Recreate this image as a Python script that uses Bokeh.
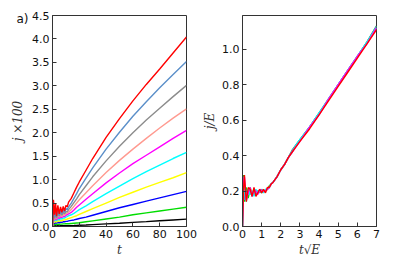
from bokeh.plotting import figure
from bokeh.layouts import row
from bokeh.models import Range1d, FixedTicker, NumeralTickFormatter
from bokeh.embed import file_html
from bokeh.resources import INLINE

# ---------------- data: left panel (j x 100 vs t) ----------------
t_left = [0, 0.7, 1.5, 2.3, 3, 4, 5, 6, 7, 8, 9, 10, 11,
          12, 14, 16, 18, 20, 25, 30, 40, 50, 60, 70, 80, 90, 100]

j_black = [0, 0.02, 0.012, 0.015, 0.013, 0.015, 0.014, 0.015, 0.015, 0.015, 0.015, 0.015, 0.015,
           0.016, 0.018, 0.02, 0.023, 0.026, 0.032, 0.04, 0.055, 0.07, 0.087, 0.104, 0.122, 0.14, 0.158]
j_green = [0, 0.06, 0.035, 0.05, 0.04, 0.05, 0.045, 0.05, 0.05, 0.055, 0.055, 0.06, 0.06,
           0.06, 0.065, 0.07, 0.075, 0.08, 0.1, 0.12, 0.16, 0.2, 0.25, 0.29, 0.33, 0.37, 0.41]
j_blue = [0, 0.1, 0.06, 0.09, 0.07, 0.09, 0.08, 0.09, 0.09, 0.1, 0.1, 0.11, 0.11,
          0.12, 0.13, 0.14, 0.155, 0.17, 0.2, 0.24, 0.32, 0.40, 0.47, 0.54, 0.61, 0.68, 0.75]
j_yellow = [0, 0.15, 0.08, 0.13, 0.09, 0.13, 0.11, 0.13, 0.12, 0.14, 0.14, 0.15, 0.16,
            0.17, 0.19, 0.21, 0.23, 0.26, 0.32, 0.38, 0.5, 0.62, 0.73, 0.84, 0.94, 1.04, 1.15]
j_cyan = [0, 0.2, 0.11, 0.18, 0.12, 0.17, 0.14, 0.17, 0.16, 0.18, 0.18, 0.2, 0.21,
          0.23, 0.25, 0.28, 0.32, 0.36, 0.44, 0.53, 0.70, 0.86, 1.02, 1.17, 1.31, 1.45, 1.58]
j_magenta = [0, 0.25, 0.13, 0.22, 0.14, 0.21, 0.17, 0.21, 0.19, 0.22, 0.21, 0.24, 0.25,
             0.27, 0.3, 0.35, 0.41, 0.46, 0.58, 0.70, 0.93, 1.14, 1.34, 1.52, 1.70, 1.88, 2.05]
j_salmon = [0, 0.3, 0.15, 0.27, 0.16, 0.26, 0.2, 0.25, 0.21, 0.26, 0.24, 0.28, 0.28,
            0.31, 0.36, 0.43, 0.50, 0.57, 0.72, 0.87, 1.15, 1.41, 1.65, 1.88, 2.10, 2.31, 2.51]
j_gray = [0, 0.38, 0.17, 0.33, 0.18, 0.32, 0.22, 0.3, 0.24, 0.3, 0.27, 0.32, 0.31,
          0.36, 0.43, 0.51, 0.59, 0.68, 0.87, 1.06, 1.40, 1.71, 2.00, 2.27, 2.52, 2.77, 3.01]
j_steel = [0, 0.45, 0.2, 0.4, 0.2, 0.38, 0.24, 0.36, 0.26, 0.36, 0.3, 0.38, 0.36,
           0.42, 0.5, 0.6, 0.7, 0.81, 1.03, 1.25, 1.65, 2.01, 2.35, 2.66, 2.96, 3.24, 3.52]
j_red = [0, 0.57, 0.25, 0.5, 0.22, 0.45, 0.27, 0.42, 0.3, 0.43, 0.33, 0.45, 0.42,
         0.52, 0.6, 0.72, 0.84, 0.95, 1.2, 1.45, 1.9, 2.3, 2.68, 3.03, 3.36, 3.7, 4.04]

left_series = [
    (j_black, "#000000"), (j_green, "#00dd00"), (j_blue, "#0000ff"),
    (j_yellow, "#ffff00"), (j_cyan, "#00ffff"), (j_magenta, "#ff00ff"),
    (j_salmon, "#ff9a90"), (j_gray, "#8c8c8c"), (j_steel, "#5b8fc9"),
    (j_red, "#ff0000"),
]

# ---------------- data: right panel (j/E vs t sqrt(E)) ----------------
x_right = [0, 0.05, 0.1, 0.2, 0.3, 0.4, 0.5, 0.6, 0.7, 0.8, 0.9, 1.0, 1.1, 1.2, 1.3, 1.4,
           1.5, 1.6, 1.8, 2.0, 2.2, 2.4, 2.6, 2.8, 3.0, 3.5, 4.0, 4.5, 5.0, 5.5, 6.0, 6.5, 7.0]
r_green = [0, 0.29, 0.14, 0.22, 0.16, 0.22, 0.18, 0.21, 0.18, 0.2, 0.2, 0.19, 0.2, 0.2, 0.21, 0.23,
           0.24, 0.25, 0.28, 0.32, 0.35, 0.39, 0.43, 0.46, 0.49, 0.56, 0.64, 0.72, 0.80, 0.88, 0.96, 1.04, 1.13]
r_steel = [0, 0.28, 0.15, 0.2, 0.18, 0.2, 0.17, 0.21, 0.19, 0.2, 0.19, 0.21, 0.2, 0.2, 0.21, 0.22,
           0.24, 0.25, 0.28, 0.32, 0.35, 0.39, 0.43, 0.46, 0.49, 0.56, 0.64, 0.72, 0.80, 0.88, 0.96, 1.04, 1.13]
r_cyan = [0, 0.27, 0.21, 0.14, 0.21, 0.18, 0.2, 0.17, 0.21, 0.19, 0.2, 0.2, 0.19, 0.21, 0.21, 0.22,
          0.24, 0.25, 0.28, 0.32, 0.35, 0.39, 0.42, 0.46, 0.49, 0.56, 0.64, 0.72, 0.80, 0.88, 0.96, 1.04, 1.12]
r_magenta = [0, 0.25, 0.28, 0.15, 0.19, 0.22, 0.17, 0.2, 0.2, 0.18, 0.21, 0.2, 0.2, 0.2, 0.21, 0.22,
             0.24, 0.25, 0.28, 0.32, 0.35, 0.39, 0.42, 0.45, 0.48, 0.56, 0.63, 0.72, 0.80, 0.88, 0.96, 1.03, 1.12]
r_red = [0, 0.2, 0.29, 0.14, 0.22, 0.21, 0.17, 0.22, 0.17, 0.19, 0.21, 0.19, 0.21, 0.19, 0.22, 0.22,
         0.24, 0.25, 0.28, 0.32, 0.35, 0.39, 0.42, 0.45, 0.48, 0.55, 0.63, 0.71, 0.79, 0.87, 0.95, 1.03, 1.11]

right_series = [
    (r_green, "#00dd00"), (r_steel, "#5b8fc9"), (r_cyan, "#00ffff"),
    (r_magenta, "#ff00ff"), (r_red, "#ff0000"),
]

left_yticks = [0, 0.5, 1.0, 1.5, 2.0, 2.5, 3.0, 3.5, 4.0, 4.5]
left_xticks = [0, 20, 40, 60, 80, 100]
right_yticks = [0, 0.2, 0.4, 0.6, 0.8, 1.0]
right_xticks = [0, 1, 2, 3, 4, 5, 6, 7]
panel_tag = "a)"

TICK_FONT = "DejaVu Sans"
LABEL_FONT = "DejaVu Serif"


def style(p, xticks, yticks, xlabel, ylabel, ylab_standoff):
    p.outline_line_color = "#333333"
    p.outline_line_width = 1
    p.xgrid.visible = False
    p.ygrid.visible = False
    for ax in p.xaxis + p.yaxis:
        ax.major_tick_in = 4
        ax.major_tick_out = 0
        ax.minor_tick_line_color = None
        ax.axis_line_color = "#333333"
        ax.major_tick_line_color = "#333333"
        ax.major_label_text_font = TICK_FONT
        ax.major_label_text_font_size = "11px"
        ax.major_label_text_color = "#111111"
        ax.axis_label_text_font = LABEL_FONT
        ax.axis_label_text_font_style = "italic"
        ax.axis_label_text_font_size = "12px"
        ax.axis_label_text_color = "#333333"
        ax.major_label_standoff = 3
        ax.axis_label_standoff = 2
    p.yaxis.axis_label_standoff = ylab_standoff
    p.xaxis.ticker = FixedTicker(ticks=xticks)
    p.yaxis.ticker = FixedTicker(ticks=yticks)
    p.yaxis.formatter = NumeralTickFormatter(format="0.0")
    p.xaxis.formatter = NumeralTickFormatter(format="0")
    p.xaxis.axis_label = xlabel
    p.yaxis.axis_label = ylabel


p1 = figure(width=200, height=262, output_backend="svg", toolbar_location=None,
            x_range=Range1d(0, 100), y_range=Range1d(0, 4.5),
            min_border_left=52, min_border_right=14, min_border_top=15, min_border_bottom=36)
style(p1, left_xticks, left_yticks, "t", "j ×100", 4)
p1.title.text = panel_tag
p1.title.align = "left"
p1.title.offset = -36
p1.title.standoff = -20
p1.title.text_font = TICK_FONT
p1.title.text_font_size = "12px"
p1.title.text_font_style = "normal"
p1.title.text_color = "#111111"
for ys, c in left_series:
    p1.line(t_left, ys, line_color=c, line_width=1.4)

p2 = figure(width=191, height=262, output_backend="svg", toolbar_location=None,
            x_range=Range1d(0, 7), y_range=Range1d(0, 1.19),
            min_border_left=41, min_border_right=15, min_border_top=15, min_border_bottom=36)
style(p2, right_xticks, right_yticks, "t√E", "j/E", 2)
for ys, c in right_series:
    p2.line(x_right, ys, line_color=c, line_width=1.4)

layout = row(p1, p2)
open("out.html", "w").write(file_html(layout, INLINE))
